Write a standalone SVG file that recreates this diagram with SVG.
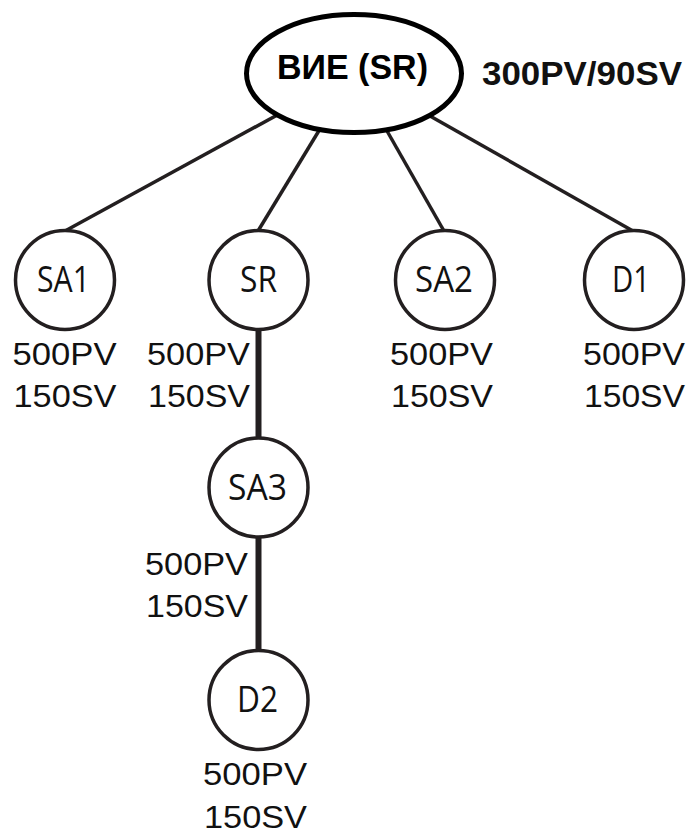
<svg xmlns="http://www.w3.org/2000/svg" width="693" height="834" viewBox="0 0 693 834">
<style>
.bg{fill:#fff}
.edge{stroke:#231f20;stroke-width:3.5;fill:none}
.vedge{stroke:#231f20;stroke-width:6;fill:none}
.node{fill:#fff;stroke:#231f20;stroke-width:3.5}
.root{fill:#fff;stroke:#000;stroke-width:5}
.nlabel{font-family:"Open Sans","Noto Sans",sans-serif;font-size:37px;fill:#111;text-anchor:middle}
.rlabel{font-family:"Liberation Sans",Arial,sans-serif;font-size:35px;font-weight:bold;fill:#000;text-anchor:middle}
.val{font-family:"Liberation Sans",Arial,sans-serif;font-size:31px;fill:#111;text-anchor:middle}
.bold{font-family:"Liberation Sans",Arial,sans-serif;font-size:32.5px;font-weight:bold;fill:#111}
</style>
<rect class="bg" x="0" y="0" width="693" height="834"/>
<g id="connectors">
<line class="edge" x1="65" y1="231" x2="354" y2="73"/>
<line class="edge" x1="258" y1="231" x2="354" y2="73"/>
<line class="edge" x1="444" y1="231" x2="354" y2="73"/>
<line class="edge" x1="633" y1="231" x2="354" y2="73"/>
<line class="vedge" x1="258.5" y1="329" x2="258.5" y2="438"/>
<line class="vedge" x1="258.5" y1="537" x2="258.5" y2="651"/>
</g>
<g id="root">
<ellipse class="root" cx="354" cy="73.5" rx="107.5" ry="59"/>
<text class="rlabel" x="352.5" y="79" textLength="151" lengthAdjust="spacingAndGlyphs">ВИЕ (SR)</text>
<text class="bold" x="482" y="85" textLength="200" lengthAdjust="spacingAndGlyphs">300PV/90SV</text>
</g>
<g id="SA1">
<circle class="node" cx="65" cy="280" r="49.5"/>
<text class="nlabel" x="63.5" y="292" textLength="53" lengthAdjust="spacingAndGlyphs">SA1</text>
<text class="val" x="64.5" y="365" textLength="104" lengthAdjust="spacingAndGlyphs">500PV</text>
<text class="val" x="65" y="407" textLength="103" lengthAdjust="spacingAndGlyphs">150SV</text>
</g>
<g id="SR">
<circle class="node" cx="258.5" cy="280" r="49.5"/>
<text class="nlabel" x="258.5" y="292" textLength="37" lengthAdjust="spacingAndGlyphs">SR</text>
<text class="val" x="198.5" y="365" textLength="103" lengthAdjust="spacingAndGlyphs">500PV</text>
<text class="val" x="199" y="407" textLength="102" lengthAdjust="spacingAndGlyphs">150SV</text>
</g>
<g id="SA2">
<circle class="node" cx="445" cy="280" r="49.5"/>
<text class="nlabel" x="444" y="292" textLength="58" lengthAdjust="spacingAndGlyphs">SA2</text>
<text class="val" x="441.5" y="365" textLength="103" lengthAdjust="spacingAndGlyphs">500PV</text>
<text class="val" x="442" y="407" textLength="102" lengthAdjust="spacingAndGlyphs">150SV</text>
</g>
<g id="D1">
<circle class="node" cx="634" cy="280" r="49.5"/>
<text class="nlabel" x="631" y="292" textLength="38" lengthAdjust="spacingAndGlyphs">D1</text>
<text class="val" x="634" y="365" textLength="102" lengthAdjust="spacingAndGlyphs">500PV</text>
<text class="val" x="634.5" y="407" textLength="101" lengthAdjust="spacingAndGlyphs">150SV</text>
</g>
<g id="SA3">
<circle class="node" cx="258.5" cy="487.5" r="49.5"/>
<text class="nlabel" x="257.5" y="500" textLength="59" lengthAdjust="spacingAndGlyphs">SA3</text>
<text class="val" x="196.5" y="575" textLength="103" lengthAdjust="spacingAndGlyphs">500PV</text>
<text class="val" x="197" y="617" textLength="102" lengthAdjust="spacingAndGlyphs">150SV</text>
</g>
<g id="D2">
<circle class="node" cx="258.5" cy="700" r="49.5"/>
<text class="nlabel" x="257.5" y="712" textLength="41" lengthAdjust="spacingAndGlyphs">D2</text>
<text class="val" x="255" y="785" textLength="104" lengthAdjust="spacingAndGlyphs">500PV</text>
<text class="val" x="255.5" y="828" textLength="103" lengthAdjust="spacingAndGlyphs">150SV</text>
</g>
</svg>
